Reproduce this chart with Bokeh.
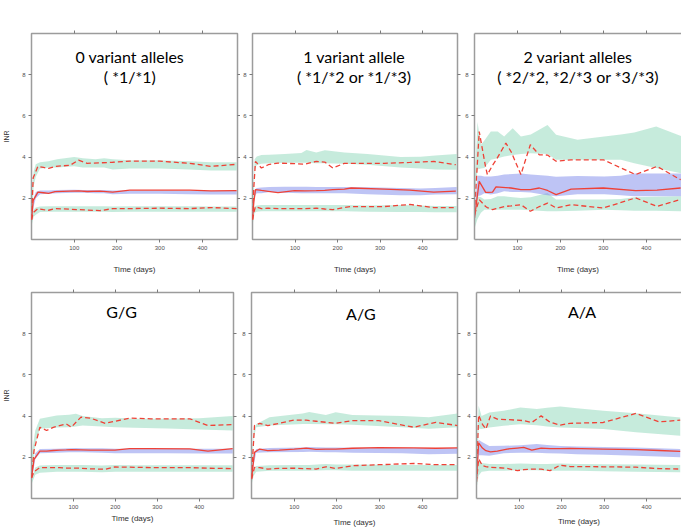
from bokeh.plotting import figure
from bokeh.layouts import column, row
from bokeh.models import Range1d, FixedTicker, LinearAxis, Label, CustomJSTickFormatter
from bokeh.embed import file_html
from bokeh.resources import INLINE

TIME_TICKS = [100, 200, 300, 400]
INR_TICKS = [2, 4, 6, 8]
X_LABEL = "Time (days)"
Y_LABEL = "INR"

# ---------------- Panel 1: 0 variant alleles ( *1/*1)
p1_title = ["0 variant alleles", "( *1/*1)"]
p1_t_obs = [0, 4, 15, 28, 40, 55, 90, 110, 130, 160, 190, 230, 300, 370, 420, 480]
p1_med = [0.95, 1.9, 2.3, 2.27, 2.24, 2.32, 2.35, 2.36, 2.33, 2.35, 2.3, 2.4, 2.4, 2.4, 2.36, 2.37]
p1_p95 = [1.0, 3.0, 3.55, 3.5, 3.45, 3.55, 3.6, 3.85, 3.7, 3.72, 3.75, 3.8, 3.8, 3.7, 3.55, 3.65]
p1_p05 = [0.95, 1.3, 1.5, 1.45, 1.42, 1.5, 1.47, 1.45, 1.43, 1.4, 1.5, 1.5, 1.52, 1.5, 1.55, 1.5]
p1_t_pi = [1, 5, 10, 20, 40, 60, 100, 120, 150, 170, 190, 230, 300, 370, 420, 480]
p1_hi_top = [2.2, 3.3, 3.65, 3.75, 3.8, 3.9, 4.0, 3.95, 3.9, 3.95, 3.9, 3.85, 3.85, 3.8, 3.75, 3.75]
p1_hi_bot = [1.1, 2.6, 3.05, 3.45, 3.5, 3.5, 3.55, 3.5, 3.5, 3.5, 3.4, 3.45, 3.45, 3.4, 3.35, 3.35]
p1_md_top = [1.2, 2.0, 2.3, 2.38, 2.38, 2.4, 2.42, 2.4, 2.4, 2.4, 2.38, 2.38, 2.38, 2.37, 2.36, 2.36]
p1_md_bot = [0.9, 1.6, 2.0, 2.2, 2.22, 2.25, 2.27, 2.27, 2.25, 2.25, 2.2, 2.22, 2.22, 2.2, 2.18, 2.18]
p1_lo_top = [1.0, 1.45, 1.55, 1.6, 1.62, 1.62, 1.62, 1.62, 1.62, 1.62, 1.6, 1.62, 1.62, 1.62, 1.6, 1.6]
p1_lo_bot = [0.75, 1.1, 1.2, 1.33, 1.35, 1.35, 1.35, 1.35, 1.35, 1.35, 1.33, 1.35, 1.35, 1.35, 1.35, 1.35]

# ---------------- Panel 2: 1 variant allele ( *1/*2 or *1/*3)
p2_title = ["1 variant allele", "( *1/*2 or *1/*3)"]
p2_t_obs = [0, 3, 7, 21, 37, 60, 99, 123, 150, 170, 189, 216, 232, 310, 370, 426, 478]
p2_med = [0.95, 1.8, 2.42, 2.38, 2.34, 2.28, 2.37, 2.36, 2.37, 2.38, 2.42, 2.45, 2.5, 2.45, 2.4, 2.3, 2.35]
p2_p95 = [1.0, 2.5, 3.79, 3.47, 3.63, 3.71, 3.68, 3.66, 3.79, 3.76, 3.47, 3.7, 3.7, 3.7, 3.74, 3.79, 3.63]
p2_p05 = [0.95, 1.3, 1.6, 1.5, 1.52, 1.5, 1.5, 1.5, 1.52, 1.48, 1.45, 1.55, 1.6, 1.6, 1.7, 1.55, 1.55]
p2_t_pi = [1, 5, 10, 21, 40, 76, 115, 127, 150, 170, 216, 270, 348, 395, 430, 480]
p2_hi_top = [2.2, 3.9, 4.03, 4.1, 4.12, 4.15, 4.2, 4.35, 4.22, 4.33, 4.22, 4.15, 4.0, 4.02, 4.08, 4.15]
p2_hi_bot = [1.2, 3.4, 3.62, 3.68, 3.7, 3.72, 3.72, 3.72, 3.7, 3.7, 3.68, 3.63, 3.5, 3.45, 3.4, 3.38]
p2_md_top = [1.3, 2.4, 2.5, 2.52, 2.55, 2.56, 2.56, 2.56, 2.55, 2.55, 2.55, 2.54, 2.5, 2.48, 2.5, 2.55]
p2_md_bot = [0.95, 2.1, 2.25, 2.25, 2.3, 2.27, 2.25, 2.25, 2.25, 2.25, 2.25, 2.2, 2.15, 2.15, 2.18, 2.2]
p2_lo_top = [1.0, 1.6, 1.65, 1.67, 1.67, 1.67, 1.67, 1.67, 1.67, 1.67, 1.67, 1.65, 1.67, 1.65, 1.63, 1.63]
p2_lo_bot = [0.8, 1.3, 1.35, 1.37, 1.37, 1.37, 1.37, 1.37, 1.37, 1.37, 1.37, 1.35, 1.33, 1.33, 1.32, 1.32]

# ---------------- Panel 3: 2 variant alleles
p3_title = ["2 variant alleles", "( *2/*2, *2/*3 or *3/*3)"]
p3_t_obs = [0, 11, 26, 30, 42, 50, 73, 85, 108, 130, 151, 170, 190, 225, 300, 375, 425, 480]
p3_med = [1.05, 2.82, 2.29, 2.29, 2.3, 2.55, 2.52, 2.5, 2.42, 2.42, 2.5, 2.38, 2.18, 2.45, 2.5, 2.37, 2.4, 2.5]
p3_p95 = [1.3, 5.24, 3.5, 3.15, 3.6, 3.85, 4.68, 4.27, 3.15, 4.6, 4.11, 4.1, 3.8, 3.87, 3.87, 3.15, 3.55, 2.9]
p3_p05 = [1.2, 1.94, 1.6, 1.55, 1.45, 1.5, 1.61, 1.63, 1.69, 1.37, 1.6, 1.77, 1.53, 1.69, 1.53, 2.02, 1.61, 1.94]
p3_t_pi = [1, 7, 15, 23, 38, 54, 69, 89, 108, 131, 170, 190, 240, 302, 341, 372, 423, 484]
p3_hi_top = [3.0, 5.7, 4.6, 4.8, 5.24, 5.24, 5.0, 5.4, 5.0, 5.1, 5.56, 5.08, 4.84, 5.0, 5.1, 5.2, 5.48, 5.0]
p3_hi_bot = [2.2, 3.4, 3.45, 3.47, 3.87, 3.95, 4.03, 4.1, 4.15, 4.19, 4.15, 3.87, 3.87, 3.87, 3.87, 3.7, 3.47, 3.2]
p3_md_top = [1.6, 3.1, 3.1, 3.06, 3.06, 3.1, 3.15, 3.18, 3.2, 3.15, 3.1, 3.05, 3.08, 3.06, 3.1, 3.2, 3.2, 3.2]
p3_md_bot = [1.0, 2.1, 2.15, 2.25, 2.18, 2.25, 2.34, 2.3, 2.3, 2.28, 2.15, 2.1, 2.2, 2.2, 2.15, 2.1, 2.1, 2.1]
p3_lo_top = [1.4, 2.1, 2.05, 1.94, 1.97, 2.1, 2.1, 2.05, 2.02, 2.05, 2.26, 1.94, 1.94, 1.94, 1.96, 2.05, 2.08, 2.1]
p3_lo_bot = [0.6, 1.0, 1.3, 1.45, 1.45, 1.45, 1.45, 1.45, 1.45, 1.42, 1.37, 1.37, 1.4, 1.45, 1.42, 1.4, 1.4, 1.37]

# ---------------- Panel 4: G/G
p4_title = ["G/G"]
p4_t_obs = [0, 6, 20, 36, 52, 67, 83, 95, 118, 141, 176, 199, 234, 285, 378, 421, 480]
p4_med = [1.0, 1.9, 2.3, 2.3, 2.33, 2.35, 2.36, 2.37, 2.36, 2.35, 2.35, 2.35, 2.42, 2.42, 2.41, 2.3, 2.42]
p4_p95 = [1.0, 2.33, 3.46, 3.3, 3.45, 3.54, 3.62, 3.46, 3.95, 3.9, 3.65, 3.75, 3.9, 3.87, 3.87, 3.54, 3.59]
p4_p05 = [1.0, 1.3, 1.5, 1.5, 1.5, 1.5, 1.48, 1.47, 1.47, 1.44, 1.42, 1.53, 1.52, 1.5, 1.5, 1.47, 1.45]
p4_t_pi = [1, 9, 20, 60, 90, 106, 122, 168, 200, 246, 324, 401, 480]
p4_hi_top = [2.2, 3.3, 3.87, 4.03, 4.07, 4.11, 4.0, 3.9, 3.92, 3.87, 3.87, 3.9, 4.0]
p4_hi_bot = [1.2, 2.65, 3.38, 3.45, 3.46, 3.5, 3.54, 3.5, 3.46, 3.44, 3.4, 3.35, 3.3]
p4_md_top = [1.3, 2.2, 2.4, 2.42, 2.44, 2.45, 2.44, 2.44, 2.42, 2.42, 2.42, 2.42, 2.42]
p4_md_bot = [0.95, 1.9, 2.2, 2.22, 2.24, 2.25, 2.24, 2.22, 2.2, 2.2, 2.2, 2.18, 2.18]
p4_lo_top = [1.0, 1.5, 1.6, 1.63, 1.63, 1.63, 1.63, 1.6, 1.63, 1.62, 1.62, 1.62, 1.62]
p4_lo_bot = [0.75, 1.15, 1.25, 1.3, 1.3, 1.3, 1.3, 1.27, 1.3, 1.3, 1.3, 1.3, 1.3]

# ---------------- Panel 5: A/G
p5_title = ["A/G"]
p5_t_obs = [0, 7, 19, 38, 65, 100, 128, 151, 174, 197, 236, 298, 380, 431, 482]
p5_med = [0.94, 2.24, 2.4, 2.32, 2.35, 2.4, 2.45, 2.38, 2.4, 2.4, 2.44, 2.47, 2.46, 2.44, 2.46]
p5_p95 = [1.0, 3.54, 3.65, 3.54, 3.65, 3.81, 3.8, 3.75, 3.7, 3.65, 3.78, 3.78, 3.46, 3.7, 3.54]
p5_p05 = [0.94, 1.51, 1.5, 1.43, 1.46, 1.47, 1.45, 1.43, 1.54, 1.46, 1.59, 1.64, 1.7, 1.64, 1.64]
p5_t_pi = [1, 5, 11, 42, 120, 135, 174, 197, 236, 353, 415, 482]
p5_hi_top = [2.0, 3.3, 3.6, 3.94, 4.13, 4.2, 4.05, 4.19, 4.05, 4.0, 3.94, 4.13]
p5_hi_bot = [1.2, 2.9, 3.46, 3.54, 3.62, 3.62, 3.6, 3.6, 3.58, 3.46, 3.38, 3.46]
p5_md_top = [1.4, 2.1, 2.4, 2.45, 2.48, 2.5, 2.47, 2.47, 2.46, 2.45, 2.45, 2.45]
p5_md_bot = [0.9, 1.6, 2.22, 2.25, 2.26, 2.27, 2.25, 2.25, 2.22, 2.2, 2.15, 2.17]
p5_lo_top = [1.0, 1.4, 1.58, 1.62, 1.63, 1.63, 1.68, 1.65, 1.65, 1.63, 1.63, 1.63]
p5_lo_bot = [0.75, 1.1, 1.3, 1.35, 1.35, 1.35, 1.37, 1.37, 1.35, 1.35, 1.35, 1.35]

# ---------------- Panel 6: A/A
p6_title = ["A/A"]
p6_t_obs = [0, 5, 14, 22, 33, 49, 72, 96, 111, 130, 152, 173, 197, 220, 298, 375, 430, 479]
p6_med = [0.95, 2.7, 2.45, 2.32, 2.26, 2.3, 2.4, 2.45, 2.48, 2.35, 2.45, 2.42, 2.42, 2.43, 2.4, 2.37, 2.33, 2.29]
p6_p95 = [1.0, 4.05, 3.6, 3.37, 4.01, 3.85, 3.83, 3.8, 3.78, 3.69, 4.01, 3.7, 3.56, 3.65, 3.69, 4.13, 3.72, 3.8]
p6_p05 = [0.8, 1.92, 1.59, 1.55, 1.51, 1.5, 1.46, 1.35, 1.4, 1.43, 1.43, 1.35, 1.62, 1.55, 1.54, 1.52, 1.45, 1.43]
p6_t_pi = [1, 5, 12, 30, 64, 103, 142, 166, 197, 236, 298, 375, 479]
p6_hi_top = [2.5, 4.5, 4.0, 4.18, 4.26, 4.42, 4.34, 4.4, 4.47, 4.38, 4.26, 4.14, 3.93]
p6_hi_bot = [1.5, 3.4, 3.37, 3.45, 3.53, 3.61, 3.55, 3.5, 3.45, 3.42, 3.37, 3.21, 3.05]
p6_md_top = [1.6, 2.85, 2.75, 2.55, 2.56, 2.58, 2.65, 2.6, 2.55, 2.52, 2.5, 2.48, 2.4]
p6_md_bot = [0.9, 2.1, 2.1, 2.08, 2.2, 2.22, 2.22, 2.2, 2.18, 2.15, 2.12, 2.08, 2.0]
p6_lo_top = [1.3, 1.85, 1.72, 1.67, 1.67, 1.7, 1.67, 1.68, 1.7, 1.68, 1.66, 1.65, 1.63]
p6_lo_bot = [0.6, 1.1, 1.3, 1.35, 1.35, 1.37, 1.37, 1.35, 1.35, 1.35, 1.32, 1.3, 1.28]

GREEN = "#8ed8b9"
BLUE = "#7d89eb"
RED = "#ef4136"
FRAME = "#9c9c9c"
TICK = "#7a7a7a"
TICKLBL = "#505050"
TITLE_FONT = "Lato"
AXIS_FONT = "Liberation Sans"

EMPTY = "return ''"


def style_axis(ax, ticks, show_labels=True, line=False):
    ax.ticker = FixedTicker(ticks=ticks)
    if line:
        ax.axis_line_color = FRAME
        ax.axis_line_width = 1.5
    else:
        ax.axis_line_color = None
    ax.major_tick_line_color = TICK
    ax.major_tick_out = 3
    ax.major_tick_in = 0
    ax.minor_tick_line_color = None
    ax.major_label_text_font = AXIS_FONT
    ax.major_label_text_font_size = "6px"
    ax.major_label_text_color = TICKLBL
    ax.major_label_standoff = 3
    if not show_labels:
        ax.formatter = CustomJSTickFormatter(code=EMPTY)
        ax.major_label_standoff = 0


def make_panel(width, height, borders, t_obs, med, p05, p95, t_pi,
               hi_top, hi_bot, md_top, md_bot, lo_top, lo_bot,
               title, title_x, title_y, show_inr, right_axis, xlab_standoff):
    bl, br, bt, bb = borders
    p = figure(width=width, height=height, x_range=Range1d(0, 482), y_range=Range1d(0, 10),
               output_backend="svg", toolbar_location=None,
               min_border_left=bl, min_border_right=br, min_border_top=bt, min_border_bottom=bb)
    p.xgrid.visible = False
    p.ygrid.visible = False
    # panels that reach the page's right edge are cut off there (no right frame side)
    use_axis_lines = not right_axis
    if use_axis_lines:
        p.outline_line_color = None
    else:
        p.outline_line_color = FRAME
        p.outline_line_width = 1.5
    p.background_fill_color = "white"
    p.border_fill_color = "white"

    style_axis(p.xaxis[0], TIME_TICKS, line=use_axis_lines)
    p.xaxis[0].axis_label = X_LABEL
    p.xaxis[0].axis_label_text_font = AXIS_FONT
    p.xaxis[0].axis_label_text_font_size = "8px"
    p.xaxis[0].axis_label_text_font_style = "normal"
    p.xaxis[0].axis_label_text_color = "#303030"
    p.xaxis[0].axis_label_standoff = xlab_standoff

    style_axis(p.yaxis[0], INR_TICKS, line=use_axis_lines)
    if show_inr:
        p.yaxis[0].axis_label = Y_LABEL
        p.yaxis[0].axis_label_text_font = AXIS_FONT
        p.yaxis[0].axis_label_text_font_size = "7px"
        p.yaxis[0].axis_label_text_font_style = "normal"
        p.yaxis[0].axis_label_text_color = "#303030"
        p.yaxis[0].axis_label_standoff = 9

    top = LinearAxis()
    style_axis(top, TIME_TICKS, show_labels=False, line=use_axis_lines)
    p.add_layout(top, "above")
    if right_axis:
        right = LinearAxis()
        style_axis(right, INR_TICKS, show_labels=False)
        p.add_layout(right, "right")

    p.varea(x=t_pi, y1=hi_bot, y2=hi_top, fill_color=GREEN, fill_alpha=0.5)
    p.varea(x=t_pi, y1=lo_bot, y2=lo_top, fill_color=GREEN, fill_alpha=0.5)
    p.varea(x=t_pi, y1=md_bot, y2=md_top, fill_color=BLUE, fill_alpha=0.5)

    p.line(t_obs, med, line_color=RED, line_width=1.3)
    p.line(t_obs, p95, line_color=RED, line_width=1.3, line_dash="5 3")
    p.line(t_obs, p05, line_color=RED, line_width=1.3, line_dash="5 3")

    for i, txt in enumerate(title):
        p.add_layout(Label(x=title_x, y=title_y - i * 0.98, text=txt, text_font=TITLE_FONT,
                           text_font_size="16px", text_align="center",
                           text_baseline="middle", text_color="black"))
    return p


p1 = make_panel(240, 276, (29, 3, 33, 36), p1_t_obs, p1_med, p1_p05, p1_p95, p1_t_pi,
                p1_hi_top, p1_hi_bot, p1_md_top, p1_md_bot, p1_lo_top, p1_lo_bot,
                p1_title, 230, 8.9, True, True, 12)
p2 = make_panel(221, 276, (12, 4, 33, 36), p2_t_obs, p2_med, p2_p05, p2_p95, p2_t_pi,
                p2_hi_top, p2_hi_bot, p2_md_top, p2_md_bot, p2_lo_top, p2_lo_bot,
                p2_title, 239, 8.9, False, True, 12)
p3 = make_panel(220, 276, (13, 0, 33, 36), p3_t_obs, p3_med, p3_p05, p3_p95, p3_t_pi,
                p3_hi_top, p3_hi_bot, p3_md_top, p3_md_bot, p3_lo_top, p3_lo_bot,
                p3_title, 241, 8.9, False, False, 12)
p4 = make_panel(237, 254, (28, 4, 16, 32), p4_t_obs, p4_med, p4_p05, p4_p95, p4_t_pi,
                p4_hi_top, p4_hi_bot, p4_md_top, p4_md_bot, p4_lo_top, p4_lo_bot,
                p4_title, 215, 9.1, True, True, 2)
p5 = make_panel(224, 254, (14, 4, 16, 32), p5_t_obs, p5_med, p5_p05, p5_p95, p5_t_pi,
                p5_hi_top, p5_hi_bot, p5_md_top, p5_md_bot, p5_lo_top, p5_lo_bot,
                p5_title, 256, 9.0, False, True, 6)
p6 = make_panel(220, 254, (15, 0, 16, 32), p6_t_obs, p6_med, p6_p05, p6_p95, p6_t_pi,
                p6_hi_top, p6_hi_bot, p6_md_top, p6_md_bot, p6_lo_top, p6_lo_bot,
                p6_title, 248, 9.1, False, False, 5)

layout = column(row(p1, p2, p3, spacing=0), row(p4, p5, p6, spacing=0), spacing=0)

with open("out.html", "w") as f:
    f.write(file_html(layout, INLINE))
